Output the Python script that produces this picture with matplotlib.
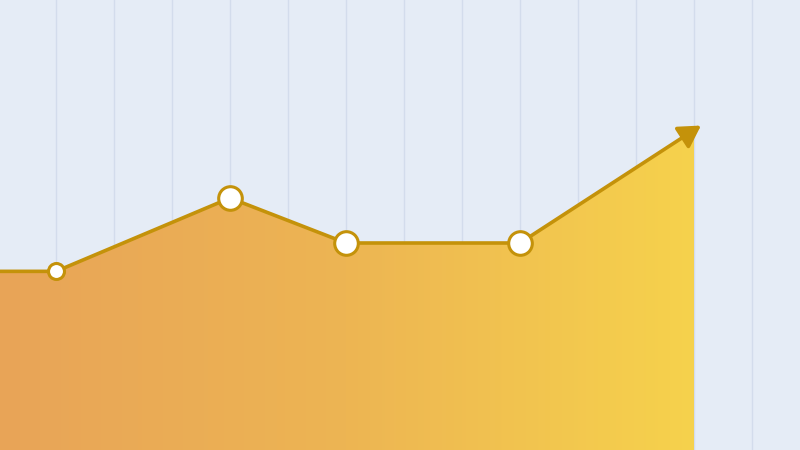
import numpy as np
import matplotlib.pyplot as plt
from matplotlib.colors import LinearSegmentedColormap

# data
xs = [0, 1, 4, 6, 9, 12]
ys = [39.7, 39.7, 56, 46, 46, 71]
big = [False, False, True, True, True, False]

bg = '#E5ECF6'
gold = '#C4920A'

fig = plt.figure(figsize=(8, 4.5), dpi=100)
ax = fig.add_axes([0, 0, 1, 1])
ax.set_facecolor(bg)
fig.patch.set_facecolor(bg)
ax.set_xlim(2 / 58, 802 / 58)
ax.set_ylim(0, 100)

for k in range(1, 14):
    ax.axvline(k, color='#D3DCEC', lw=1, zorder=0)

# gradient fill under the line
poly = ax.fill_between(xs, ys, 0, color='none', zorder=1)
cmap = LinearSegmentedColormap.from_list('g', ['#E8A458', '#EDB553', '#F6D24C'])
grad = np.linspace(0, 1, 256).reshape(1, -1)
img = ax.imshow(grad, cmap=cmap, aspect='auto', extent=[xs[0], xs[-1], 0, 100],
                zorder=1, interpolation='bicubic')
img.set_clip_path(poly.get_paths()[0], transform=ax.transData)

ax.plot(xs[:-1], ys[:-1], color=gold, lw=2.6, zorder=3, solid_capstyle='butt')
ax.annotate('', xy=(xs[-1] + 0.12, ys[-1] + 1.1), xytext=(xs[-2], ys[-2]),
            arrowprops=dict(arrowstyle='-|>,head_length=0.6,head_width=0.35', color=gold, lw=2.6,
                            mutation_scale=22, shrinkA=0, shrinkB=0), zorder=3)

for x, y, b in zip(xs[1:-1], ys[1:-1], big[1:-1]):
    ax.plot(x, y, 'o', ms=17 if b else 11.5, mfc='white', mec=gold, mew=2.2, zorder=4)

ax.set_xticks([])
ax.set_yticks([])
for s in ax.spines.values():
    s.set_visible(False)

fig.savefig('out.png', dpi=100, facecolor=bg)
